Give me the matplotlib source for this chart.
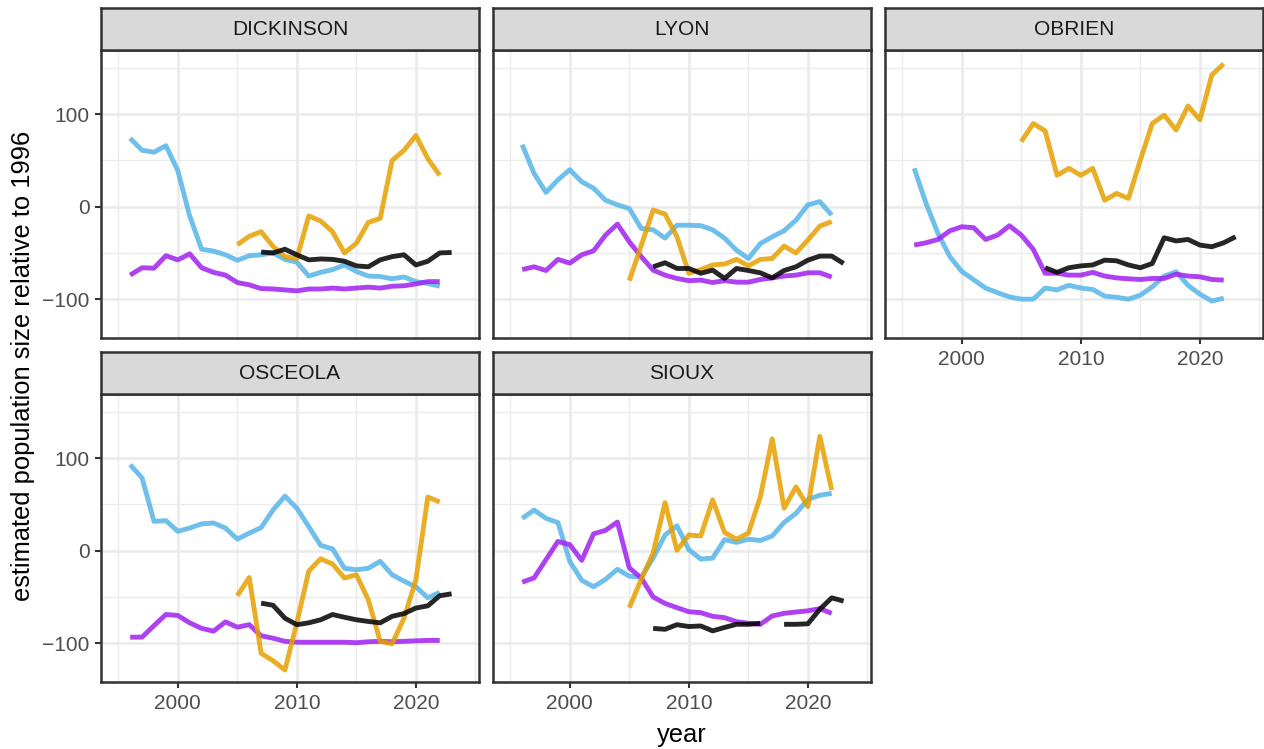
import numpy as np
import matplotlib
matplotlib.use("Agg")
import matplotlib.pyplot as plt

plt.rcParams['font.family'] = ['Liberation Sans', 'DejaVu Sans']

# ---- data -----------------------------------------------------------------
counties = ["DICKINSON", "LYON", "OBRIEN", "OSCEOLA", "SIOUX"]

years_blue = list(range(1996, 2023))
years_purple = list(range(1996, 2023))
years_orange = list(range(2005, 2023))
years_black = list(range(2007, 2024))

blue_dickinson = [74, 61, 59, 66, 39, -10, -46, -48, -52, -58, -53, -52, -50, -57,
                  -60, -75, -71, -68, -63, -70, -75, -75.5, -78, -76, -81, -83, -86]
blue_lyon = [67, 36, 15.5, 29, 40, 27, 20, 7, 2, -2, -23.5, -25, -34, -20, -20,
             -20.5, -25, -34, -47, -56, -40, -32.5, -26, -14.5, 2, 5.5, -9]
blue_obrien = [41.5, 3.6, -29, -54, -70, -79, -88, -93, -97.5, -100, -100, -88, -90,
               -85, -88, -89.5, -96.7, -98, -100, -95.7, -86.6, -75, -70.4, -85,
               -94.6, -102, -99]
blue_osceola = [93, 78.7, 31.8, 32.5, 21, 24.5, 29, 30, 24.5, 12.6, 19, 25, 44, 59,
                46, 26, 5.8, 2, -19, -20.6, -19, -11.5, -26, -33, -39, -51, -45]
blue_sioux = [35, 44, 35, 30.5, -11.5, -32, -39, -31, -20, -27.6, -28.7, -8, 17, 27,
              1, -9, -8, 12, 9, 12.5, 11, 16, 30.5, 40.5, 55.5, 60, 62]

purple_dickinson = [-74, -66, -66.5, -53, -57.5, -51, -66, -71, -74, -82, -84.5,
                    -88.5, -89, -90, -91, -89, -89, -88, -89, -88, -87, -88, -86,
                    -85.5, -83.5, -81, -81]
purple_lyon = [-68, -65, -69, -57, -61, -52, -47.7, -30.7, -18.8, -38, -54, -68.6,
               -74, -77.6, -80, -79.4, -82, -80, -81.6, -81.6, -78.7, -77, -75, -74,
               -71.5, -71.5, -76]
purple_obrien = [-41.5, -39, -35.4, -26, -21.7, -22.7, -35.4, -30.7, -20.6, -30.7,
                 -46, -72, -72, -74, -74, -71, -75, -77, -78, -78.7, -77.6, -77.6,
                 -73, -75, -75.8, -78.7, -79.4]
purple_osceola = [-93.5, -93.5, -81, -69, -70, -78, -84, -87, -77, -82.7, -80, -92,
                  -94.6, -98, -99, -99, -99, -99, -99, -99.5, -98.5, -98, -98.5,
                  -98, -97.5, -97, -97]
purple_sioux = [-34, -29.4, -9.7, 10, 6.5, -10.4, 18.3, 22, 31, -18.6, -29.4, -50,
                -57, -61.6, -66, -67, -71, -72.4, -76.7, -78.5, -79.6, -70.6, -67.7,
                -66.3, -65, -62.7, -67.7]

orange_dickinson = [-41, -32, -27, -43, -54, -56, -10, -15.5, -27, -50, -39.5, -17,
                    -12.6, 50, 61, 77, 52, 34]
orange_lyon = [-80, -42, -3.6, -8, -32.5, -72, -68, -63, -62, -57, -64, -57, -56,
               -42.6, -50, -36, -21, -16]
orange_obrien = [70.4, 90, 82, 34, 41.5, 34, 41.5, 7, 14.4, 9, 50.5, 90, 99, 83, 109,
                 94, 142.6, 154.5]
orange_osceola = [-48.7, -29, -111, -119, -129, -78, -22, -8.7, -14.4, -29.6, -26,
                  -53, -98, -100.7, -73, -31.4, 58, 52.7]
orange_sioux = [-61.6, -31, -2.5, 52, 0.4, 17, 16, 55, 19.7, 12.5, 19, 58, 121, 46,
                69, 47.7, 123.7, 65.6]

black_dickinson = [-49, -50, -46, -52, -57.5, -56.5, -57, -59, -64, -65, -57.5, -54,
                   -52, -63, -59, -50, -49.5]
black_lyon = [-65, -60.6, -66.8, -66.8, -72, -68.6, -77.6, -66.8, -69, -71.5, -77,
              -69, -65, -57.8, -53.4, -53.4, -61.4]
black_obrien = [-66, -71, -66, -64, -63, -57.8, -58.5, -63, -66, -61.4, -33.6, -37,
                -35.4, -41.5, -43.3, -39, -32.5]
black_osceola = [-56.7, -59, -73, -80, -78, -74.7, -69, -72, -74.7, -76.5, -78, -71,
                 -68, -62, -59.6, -48.7, -46.6]
black_sioux = [-84, -85, -80, -82, -81.4, -86.7, -83, -79.6, -79.6, -78.5, np.nan,
               -79.6, -79.6, -79, -63.4, -51, -54.5]

series = {
    "DICKINSON": (blue_dickinson, purple_dickinson, orange_dickinson, black_dickinson),
    "LYON": (blue_lyon, purple_lyon, orange_lyon, black_lyon),
    "OBRIEN": (blue_obrien, purple_obrien, orange_obrien, black_obrien),
    "OSCEOLA": (blue_osceola, purple_osceola, orange_osceola, black_osceola),
    "SIOUX": (blue_sioux, purple_sioux, orange_sioux, black_sioux),
}

x_ticks = [2000, 2010, 2020]
y_ticks = [-100, 0, 100]
x_minor = [1995, 2005, 2015, 2025]
y_minor = [-50, 50, 150]

# ---- layout (pixel geometry of the facet grid) ----------------------------
W, H = 1264, 749
fig = plt.figure(figsize=(W / 100, H / 100), dpi=100)

col_left = [101, 493, 885]
panel_w = 378
row_top = [50, 394]
panel_h = 288
strip_h = 42.5

colors = ["#56B4E9", "#A020F0", "#E69F00", "#000000"]
year_sets = [years_blue, years_purple, years_orange, years_black]

GRID = "#EBEBEB"
DARK = "#333333"
FS = 15


def px_axes(left, top, width, height):
    return fig.add_axes([left / W, 1 - (top + height) / H, width / W, height / H])


for i, county in enumerate(counties):
    r, c = divmod(i, 3)
    ax = px_axes(col_left[c], row_top[r], panel_w, panel_h)
    ax.set_xlim(1993.55, 2025.3)
    ax.set_ylim(-142, 169.5)
    ax.set_axisbelow(True)
    for xm in x_minor:
        ax.axvline(xm, color=GRID, lw=1.0, zorder=0)
    for ym in y_minor:
        ax.axhline(ym, color=GRID, lw=1.0, zorder=0)
    for xm in x_ticks:
        ax.axvline(xm, color=GRID, lw=1.9, zorder=0)
    for ym in y_ticks:
        ax.axhline(ym, color=GRID, lw=1.9, zorder=0)

    for yrs, vals, col in zip(year_sets, series[county], colors):
        ax.plot(yrs, vals, color=col, lw=3.5, alpha=0.85, solid_capstyle="butt",
                zorder=2)

    for sp in ax.spines.values():
        sp.set_color(DARK)
        sp.set_linewidth(1.8)
        sp.set_zorder(5)

    ax.set_xticks(x_ticks)
    ax.set_yticks(y_ticks)
    ax.tick_params(length=4.6, width=1.5, color=DARK, labelsize=FS,
                   labelcolor="#4D4D4D", pad=3.7)
    show_x = (r == 1) or (c == 2)
    show_y = (c == 0)
    if not show_x:
        ax.tick_params(axis="x", length=0, labelbottom=False)
    if not show_y:
        ax.tick_params(axis="y", length=0, labelleft=False)
    ax.set_yticklabels(["\u2212100", "0", "100"] if show_y else [])

    # facet strip
    st = px_axes(col_left[c], row_top[r] - strip_h, panel_w, strip_h)
    st.set_facecolor("#D9D9D9")
    st.set_xticks([])
    st.set_yticks([])
    for sp in st.spines.values():
        sp.set_color(DARK)
        sp.set_linewidth(1.8)
    st.text(0.5, 0.48, county, ha="center", va="center", fontsize=FS,
            color="#1A1A1A", transform=st.transAxes)

fig.text(681.5 / W, 1 - 735 / H, "year", ha="center", va="center", fontsize=18.4)
fig.text(23 / W, 1 - 366 / H, "estimated population size relative to 1996",
         ha="center", va="center", rotation=90, fontsize=18.4)

fig.savefig("out.png", dpi=100)
